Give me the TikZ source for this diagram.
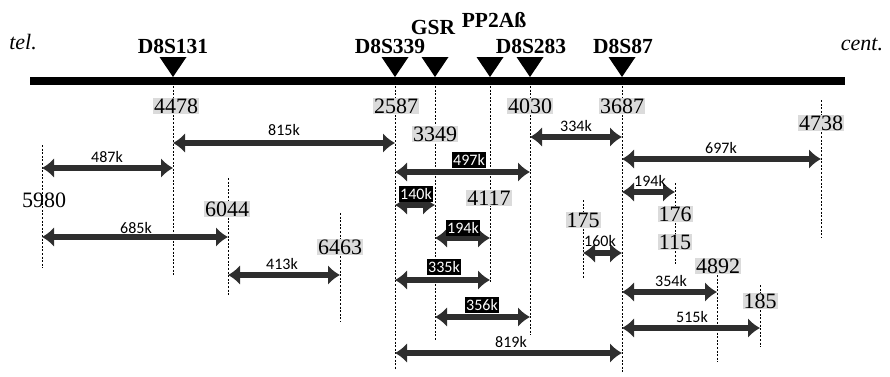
\documentclass[tikz,border=0pt]{standalone}
\usepackage{fontspec}
\setmainfont{Liberation Serif}
\newfontfamily\kbfont{Carlito}
\usetikzlibrary{arrows.meta,calc}
\tikzset{
  vline/.style={draw=black, line width=0.8pt, dash pattern=on 2pt off 1.6pt},
  dbl/.style={draw=black!82, line width=5.5pt,
    {Latex[length=12pt,width=20pt]}-{Latex[length=12pt,width=20pt]}},
  numlab/.style={fill=gray!28, inner sep=1pt, font=\fontsize{22}{22}\selectfont},
  plainlab/.style={inner sep=1pt, font=\fontsize{22}{22}\selectfont},
  kblab/.style={inner sep=0pt, font=\kbfont\fontsize{16}{16}\selectfont},
  kbbox/.style={fill=black, text=white, inner xsep=1.5pt, inner ysep=2pt, font=\kbfont\fontsize{16}{16}\selectfont},
  markerlab/.style={inner sep=0pt, font=\bfseries\fontsize{21.5}{21.5}\selectfont},
  endlab/.style={inner sep=0pt, font=\itshape\fontsize{22}{22}\selectfont},
  tri/.style={fill=black}
}
\newcommand{\mymarker}[2]{%
  \coordinate (#2) at (#1,77);
  \fill[tri] ($(#2)+(-13.5,-20)$) -- ($(#2)+(13.5,-20)$) -- (#2) -- cycle;}
\begin{document}
\begin{tikzpicture}[x=1pt,y=-1pt]
\useasboundingbox (0,0) rectangle (890,376);
% dotted vertical lines
\draw[vline] (173,86) -- (173,275);
\draw[vline] (395,86) -- (395,370);
\draw[vline] (435,86) -- (435,340);
\draw[vline] (490,86) -- (490,283);
\draw[vline] (530,86) -- (530,335);
\draw[vline] (622,86) -- (622,372);
\draw[vline] (821,100) -- (821,238);
\draw[vline] (42,145) -- (42,268);
\draw[vline] (228,178) -- (228,295);
\draw[vline] (340,213) -- (340,322);
\draw[vline] (583,200) -- (583,278);
\draw[vline] (675,183) -- (675,265);
\draw[vline] (717,275) -- (717,362);
\draw[vline] (760,285) -- (760,347);
% chromosome bar
\coordinate (barL) at (30,81);
\coordinate (barR) at (845,81);
\draw[line width=8pt] (barL) -- (barR);
% markers
\mymarker{173}{mA}
\mymarker{395}{mB}
\mymarker{435}{mC}
\mymarker{490}{mD}
\mymarker{530}{mE}
\mymarker{622}{mF}
\node[markerlab] (lA) at (173,46) {D8S131};
\node[markerlab] (lB) at (390,46) {D8S339};
\node[markerlab] (lC) at (433,27) {GSR};
\node[markerlab] (lD) at (494,20) {PP2Aß};
\node[markerlab] (lE) at (531,46) {D8S283};
\node[markerlab] (lF) at (623,46) {D8S87};
\node[endlab] (tel) at (23,42) {tel.};
\node[endlab] (cent) at (862,44) {cent.};
% number labels
\node[numlab] (n4478) at (176,106) {4478};
\node[numlab] (n2587) at (396,106) {2587};
\node[numlab] (n4030) at (530,106) {4030};
\node[numlab] (n3687) at (622,106) {3687};
\node[numlab] (n3349) at (435,134) {3349};
\node[numlab] (n4738) at (821,123) {4738};
\node[plainlab] (n5980) at (44,200) {5980};
\node[numlab] (n6044) at (227,209) {6044};
\node[numlab] (n4117) at (489,198) {4117};
\node[numlab] (n6463) at (340,247) {6463};
\node[numlab] (n175) at (583,220) {175};
\node[numlab] (n176) at (675,214) {176};
\node[numlab] (n115) at (675,242) {115};
\node[numlab] (n4892) at (718,266) {4892};
\node[numlab] (n185) at (760,301) {185};
% arrow end points
\coordinate (a815L) at (173,143); \coordinate (a815R) at (395,143);
\coordinate (a487L) at (42,168);  \coordinate (a487R) at (173,168);
\coordinate (a685L) at (42,237);  \coordinate (a685R) at (228,237);
\coordinate (a413L) at (228,275); \coordinate (a413R) at (340,275);
\coordinate (a334L) at (530,137); \coordinate (a334R) at (622,137);
\coordinate (a697L) at (622,159); \coordinate (a697R) at (821,159);
\coordinate (a497L) at (395,172); \coordinate (a497R) at (530,172);
\coordinate (a140L) at (395,205); \coordinate (a140R) at (435,205);
\coordinate (a194L) at (435,238); \coordinate (a194R) at (490,238);
\coordinate (a335L) at (395,280); \coordinate (a335R) at (490,280);
\coordinate (a356L) at (435,317); \coordinate (a356R) at (530,317);
\coordinate (a819L) at (395,353); \coordinate (a819R) at (622,353);
\coordinate (b194L) at (622,192); \coordinate (b194R) at (675,192);
\coordinate (a160L) at (583,253); \coordinate (a160R) at (622,253);
\coordinate (a354L) at (622,292); \coordinate (a354R) at (717,292);
\coordinate (a515L) at (622,328); \coordinate (a515R) at (760,328);
% arrows
\foreach \a in {a815,a487,a685,a413,a334,a697,a497,a140,a194,a335,a356,a819,b194,a160,a354,a515}
  \draw[dbl] (\a L) -- (\a R);
% kb labels
\node[kblab] (k815) at (284,130) {815k};
\node[kblab] (k487) at (107,157) {487k};
\node[kblab] (k685) at (136,228) {685k};
\node[kblab] (k413) at (282,264) {413k};
\node[kblab] (k334) at (576,126) {334k};
\node[kblab] (k697) at (721,148) {697k};
\node[kblab] (k194b) at (650,181) {194k};
\node[kblab] (k160) at (600,241) {160k};
\node[kblab] (k354) at (671,281) {354k};
\node[kblab] (k515) at (692,317) {515k};
\node[kblab] (k819) at (511,342) {819k};
\node[kbbox] (k497) at (469,160) {497k};
\node[kbbox] (k140) at (416,194) {140k};
\node[kbbox] (k194) at (463,228) {194k};
\node[kbbox] (k335) at (444,267) {335k};
\node[kbbox] (k356) at (482,305) {356k};
\end{tikzpicture}
\end{document}
